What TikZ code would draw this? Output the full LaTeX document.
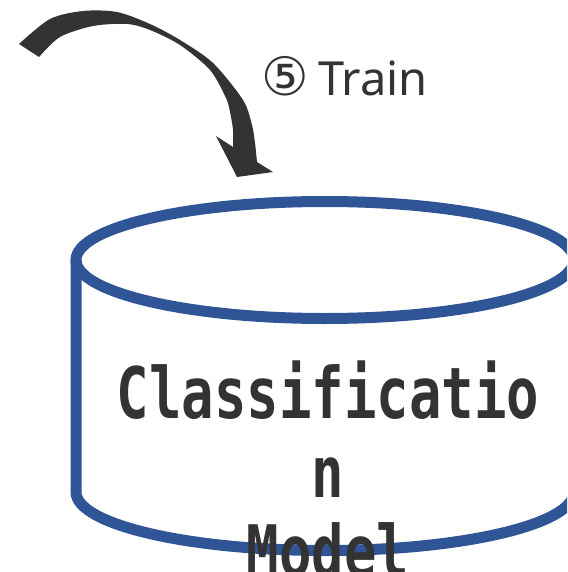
\documentclass[tikz,border=0pt]{standalone}
\usepackage{fontspec}
\setmainfont{Noto Sans}
\newfontfamily\circfont{DejaVu Sans}
\newfontfamily\labelmono[FakeStretch=0.76]{DejaVu Sans Mono Bold}
\definecolor{cylblue}{HTML}{2F5597}
\definecolor{inkgray}{HTML}{333333}
\tikzset{
  cylline/.style={draw=cylblue, line width=11pt},
  bentarrow/.style={fill=inkgray, draw=none},
  steplabel/.style={text=inkgray, inner sep=0pt, font=\fontsize{47}{56}\selectfont},
  modellabel/.style={text=inkgray, inner sep=0pt, align=center,
    font=\labelmono\fontsize{71}{79}\selectfont}
}
\begin{document}
\begin{tikzpicture}[x=1pt,y=-1pt]
\useasboundingbox (0,0) rectangle (567,572);
\clip (0,0) rectangle (567,572);

% curved arrow pointing down onto the model store
\fill[bentarrow]
  plot[smooth] coordinates {(19,44) (50,19) (83,11) (117,12) (150,24) (180,40) (213,63) (243,100) (252,125) (255,143) (257,162)}
  -- (273,172) -- (237,177) -- (216,136) -- (233,147)
  -- plot[smooth] coordinates {(233,147) (233,130) (230,112) (226,98) (210,70) (180,45) (150,30) (127,24) (93,26) (60,37) (39,57)}
  -- cycle;

\node[steplabel, anchor=base west] (train) at (261,96) {{\circfont\fontsize{53}{56}\selectfont ⑤}\hspace{0.2em}Train};

% cylinder: top ellipse and body
\draw[cylline] (325,260) ellipse [x radius=249, y radius=58.5];
\draw[cylline] (76,260) -- (76,492)
  arc[start angle=180, end angle=0, x radius=249, y radius=58.5] -- (574,260);

\node[modellabel, anchor=base] (model) at (328,576) {Classificatio\\n\\Model};
\end{tikzpicture}
\end{document}
